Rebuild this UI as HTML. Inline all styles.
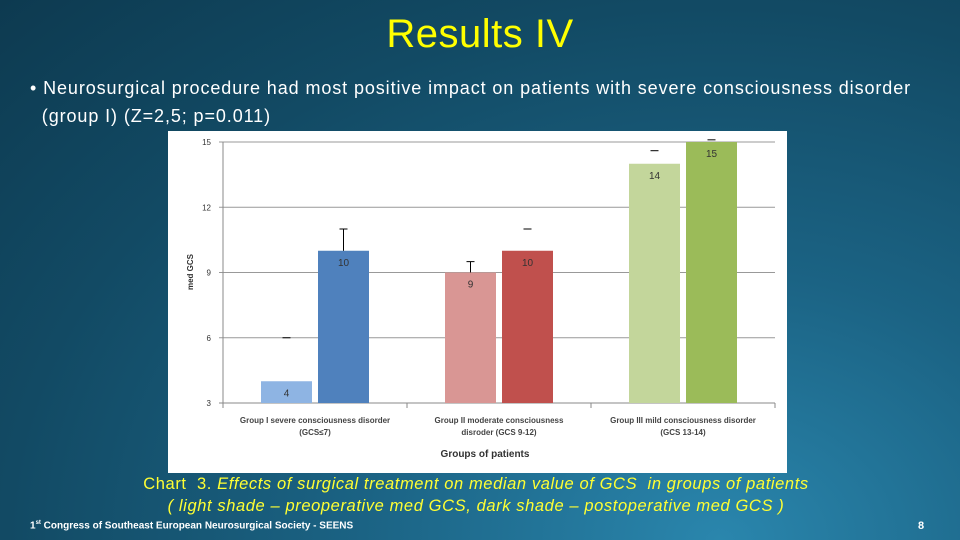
<!DOCTYPE html>
<html><head><meta charset="utf-8"><style>
body{margin:0;width:960px;height:540px;overflow:hidden;font-family:"Liberation Sans",sans-serif;
background:radial-gradient(ellipse at 75% 100%,#2a86ad 0%,#1b6384 35%,#124a64 70%,#0d3a50 100%);position:relative;color:#fff}
.t{position:absolute;white-space:nowrap}
</style></head><body>
<div class="t" style="left:0;width:960px;text-align:center;top:12px;font-size:40px;letter-spacing:0.5px;color:#ffff00">Results IV</div>
<div class="t" style="left:30px;top:74px;font-size:18px;letter-spacing:0.9px;line-height:28px">• Neurosurgical procedure had most positive impact on patients with severe consciousness disorder<br>&nbsp;&nbsp;(group I) (Z=2,5; p=0.011)</div>
<svg style="position:absolute;left:168px;top:131px" width="619" height="342">
<rect width="619" height="342" fill="#fff"/>
<g id="g" transform="translate(-168,-131)"></g>
</svg>
<div class="t" style="left:0;width:952px;text-align:center;top:473px;font-size:16.5px;line-height:22px;letter-spacing:0.6px;color:#ffff33">Chart&nbsp; 3. <i>Effects of surgical treatment on median value of GCS&nbsp; in groups of patients<br>( light shade – preoperative med GCS, dark shade – postoperative med GCS )</i></div>
<div class="t" style="left:30px;top:520px;font-size:10px;font-weight:bold">1<sup style="font-size:6px">st</sup> Congress of Southeast European Neurosurgical Society - SEENS</div>
<div class="t" style="left:918px;top:520px;font-size:11px;font-weight:bold">8</div>
<script>
const categories=[["Group I   severe consciousness  disorder","(GCS≤7)"],["Group II   moderate consciousness","disroder (GCS 9-12)"],["Group III   mild consciousness  disorder","(GCS 13-14)"]];
const preValues=[4,9,14];
const postValues=[10,10,15];
const preErr=[6,9.5,14.6];
const postErr=[11,11,15.1];
const preStem=[false,true,false];
const postStem=[true,false,false];
const yTicks=[3,6,9,12,15];
const preColors=["#8eb4e3","#d99694","#c3d69b"];
const postColors=["#4f81bd","#c0504d","#9bbb59"];
const NS="http://www.w3.org/2000/svg",g=document.getElementById("g");
const x0=223,x1=775,yMin=3,yMax=15,yB=403,yT=142;
const y=v=>yB-(v-yMin)/(yMax-yMin)*(yB-yT);
const cw=(x1-x0)/categories.length;
function el(t,a,txt){const e=document.createElementNS(NS,t);for(const k in a)e.setAttribute(k,a[k]);if(txt!=null)e.textContent=txt;g.appendChild(e);return e;}
yTicks.forEach(v=>{
 const l=el("line",{x1:x0-4,x2:x1,y1:y(v),y2:y(v),stroke:v===yMin?"#888":"#999","stroke-width":1});
 
 
 const t=el("text",{x:x0-12,y:y(v)+3,"font-size":8,"text-anchor":"end",fill:"#333"},v);
 
 
});
el("line",{x1:x0,x2:x0,y1:yT,y2:yB,stroke:"#888"});
for(let i=0;i<=categories.length;i++)el("line",{x1:x0+i*cw,x2:x0+i*cw,y1:yB,y2:yB+5,stroke:"#888"});
const bw=51,gap=6;
categories.forEach((c,i)=>{
 const cx=x0+cw*(i+0.5);
 [[preValues,preColors,preErr,preStem,cx-gap/2-bw],[postValues,postColors,postErr,postStem,cx+gap/2]].forEach(([vals,cols,err,stem,bx],k)=>{
  const v=vals[i];
  const r=el("rect",{x:bx,y:y(v),width:bw,height:yB-y(v),fill:cols[i]});
  
  
  const ex=bx+bw/2,ey=y(err[i]);
  if(stem[i])el("line",{x1:ex,x2:ex,y1:y(v),y2:ey,stroke:"#000"});
  el("line",{x1:ex-4,x2:ex+4,y1:ey,y2:ey,stroke:"#000"});
  const lb=el("text",{x:ex,y:y(v)+15,"font-size":10,"text-anchor":"middle",fill:"#333"},v);
  
  
 });
 c.forEach((s,j)=>{
  const t=el("text",{x:cx,y:423+j*12,"font-size":8,"font-weight":"bold","text-anchor":"middle",fill:"#444"},s);
  
  
 });
});
const xt=el("text",{x:485,y:457,"font-size":10,"font-weight":"bold","text-anchor":"middle",fill:"#333"},"Groups of patients");


const yt=el("text",{x:0,y:0,"font-size":8,"font-weight":"bold","text-anchor":"middle",fill:"#333",transform:"translate(193,272) rotate(-90)"},"med GCS");


</script>
</body></html>
